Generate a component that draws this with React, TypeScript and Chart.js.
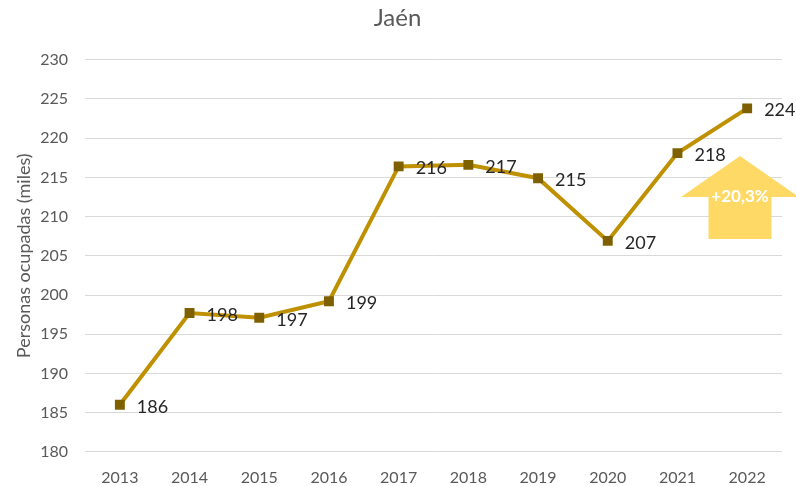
import React, { useEffect, useRef } from "react";
import { Chart, registerables } from "chart.js";

Chart.register(...registerables);

const years = ["2013", "2014", "2015", "2016", "2017", "2018", "2019", "2020", "2021", "2022"];
const personas = [186.0, 197.7, 197.1, 199.2, 216.4, 216.6, 214.9, 206.9, 218.1, 223.8];
const labels = ["186", "198", "197", "199", "216", "217", "215", "207", "218", "224"];
const arrowText = "+20,3%";

const FONT = "Lato, 'Open Sans', sans-serif";

const dataLabelPlugin = {
  id: "dataLabels",
  afterDatasetsDraw(chart: any) {
    const ctx = chart.ctx;
    const meta = chart.getDatasetMeta(0);
    ctx.save();
    ctx.font = `18px ${FONT}`;
    ctx.fillStyle = "#262626";
    ctx.textAlign = "left";
    ctx.textBaseline = "middle";
    meta.data.forEach((pt: any, i: number) => {
      ctx.fillText(labels[i], pt.x + 17, pt.y + 2);
    });
    ctx.restore();
  },
};

const arrowPlugin = {
  id: "arrow",
  afterDatasetsDraw(chart: any) {
    const ctx = chart.ctx;
    const cx = 740;
    const tipY = 156;
    const headY = 197;
    const bottomY = 239;
    const headHalf = 59;
    const shaftHalf = 31.5;
    ctx.save();
    ctx.fillStyle = "#FFD966";
    ctx.beginPath();
    ctx.moveTo(cx, tipY);
    ctx.lineTo(cx + headHalf, headY);
    ctx.lineTo(cx + shaftHalf, headY);
    ctx.lineTo(cx + shaftHalf, bottomY);
    ctx.lineTo(cx - shaftHalf, bottomY);
    ctx.lineTo(cx - shaftHalf, headY);
    ctx.lineTo(cx - headHalf, headY);
    ctx.closePath();
    ctx.fill();
    ctx.font = `bold 17px ${FONT}`;
    ctx.fillStyle = "#FFFFFF";
    ctx.textAlign = "center";
    ctx.textBaseline = "middle";
    ctx.fillText(arrowText, cx, headY);
    ctx.restore();
  },
};

export default function App() {
  const ref = useRef<HTMLCanvasElement>(null);
  useEffect(() => {
    if (!ref.current) return;
    const chart = new Chart(ref.current, {
      type: "line",
      data: {
        labels: years,
        datasets: [
          {
            data: personas,
            borderColor: "#BF9000",
            borderWidth: 4,
            pointStyle: "rect",
            pointRadius: 7,
            pointBackgroundColor: "#7F6000",
            pointBorderColor: "#7F6000",
            pointBorderWidth: 0,
            tension: 0,
          },
        ],
      },
      options: {
        responsive: false,
        animation: false,
        layout: { padding: { left: 13, right: 14, top: 0, bottom: -9 } },
        plugins: {
          legend: { display: false },
          tooltip: { enabled: false },
          title: {
            display: true,
            text: "Jaén",
            color: "#595959",
            font: { family: FONT, size: 24, weight: "normal" },
            padding: { top: 4, bottom: 27 },
          },
        },
        scales: {
          x: {
            offset: true,
            grid: { display: false },
            border: { display: false },
            ticks: { color: "#595959", font: { family: FONT, size: 16 }, padding: 8 },
          },
          y: {
            min: 180,
            max: 230,
            afterFit: (scale: any) => {
              scale.width = 72;
            },
            ticks: { stepSize: 5, color: "#595959", font: { family: FONT, size: 16 }, padding: 17 },
            grid: { color: "#D9D9D9", lineWidth: 1, drawTicks: false },
            border: { display: false },
            title: {
              display: true,
              text: "Personas ocupadas (miles)",
              color: "#595959",
              font: { family: FONT, size: 18 },
              padding: { top: 0, bottom: 6 },
            },
          },
        },
      },
      plugins: [dataLabelPlugin, arrowPlugin],
    });
    return () => chart.destroy();
  }, []);
  return (
    <div style={{ position: "absolute", left: 0, top: 0, width: 796, height: 486, background: "#fff" }}>
      <canvas ref={ref} width={796} height={486} />
    </div>
  );
}
